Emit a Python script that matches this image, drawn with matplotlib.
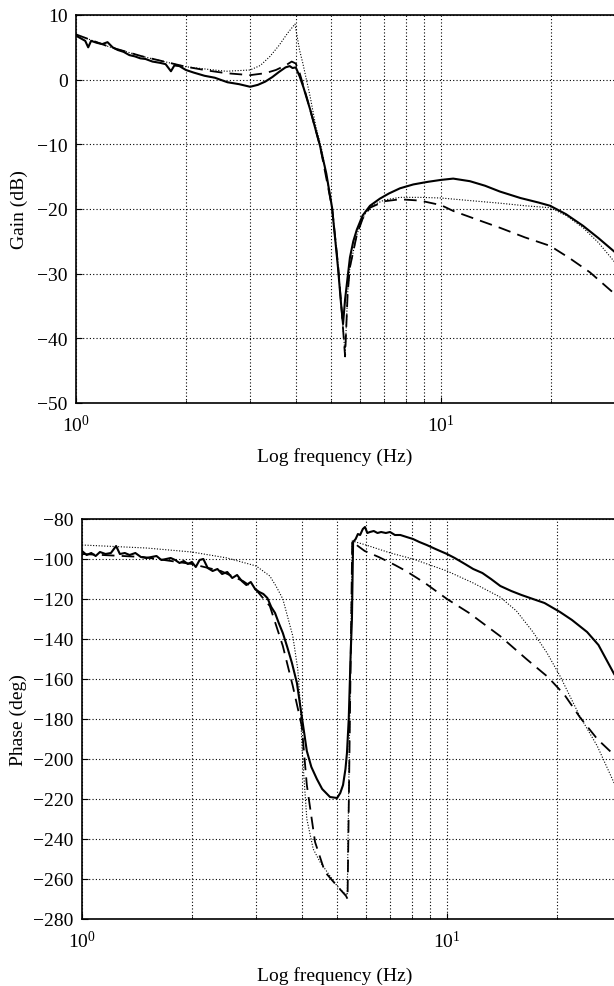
import numpy as np
import matplotlib.pyplot as plt
from matplotlib.ticker import LogLocator, NullFormatter, LogFormatterMathtext

plt.rcParams['font.family'] = ['Liberation Serif', 'DejaVu Serif']
plt.rcParams['mathtext.fontset'] = 'custom'
plt.rcParams['mathtext.rm'] = 'Liberation Serif'
plt.rcParams['mathtext.it'] = 'Liberation Serif:italic'

# gain, measured (solid)
f_gain_meas = [1.00, 1.03, 1.06, 1.08, 1.10, 1.14, 1.18, 1.22, 1.26, 1.30, 1.35, 1.40, 1.45, 1.50,
               1.55, 1.62, 1.70, 1.76, 1.82, 1.86, 1.92, 2.00, 2.10, 2.25, 2.40, 2.60, 2.80, 3.00,
               3.15, 3.30, 3.45, 3.60, 3.75, 3.85, 3.92, 4.00, 4.10, 4.20, 4.38, 4.66, 4.85, 5.03,
               5.22, 5.32, 5.39, 5.46, 5.55, 5.63, 5.75, 5.88, 6.10, 6.39, 6.80, 7.20, 7.72, 8.40,
               9.20, 10.0, 10.8, 12.0, 13.2, 14.5, 16.5, 18.5, 19.9, 22.0, 24.5, 27.0, 30.0]
gain_meas = [6.8, 6.4, 6.0, 5.0, 6.0, 5.7, 5.5, 5.8, 5.0, 4.6, 4.3, 3.8, 3.6, 3.3,
             3.2, 2.8, 2.6, 2.4, 1.3, 2.2, 2.1, 1.5, 1.1, 0.6, 0.3, -0.4, -0.7, -1.1,
             -0.8, -0.3, 0.4, 1.2, 1.9, 2.1, 1.8, 1.9, 0.5, -1.2, -4.6, -10.2, -14.5, -19.8,
             -29.0, -34.5, -37.8, -34.0, -30.5, -27.5, -25.0, -23.2, -21.0, -19.5, -18.4, -17.6, -16.8, -16.2,
             -15.8, -15.5, -15.3, -15.7, -16.4, -17.3, -18.3, -19.0, -19.5, -20.8, -22.6, -24.5, -26.7]

# gain, model 1 (dashed)
f_gain_m1 = [1.00, 1.23, 1.52, 2.00, 2.30, 2.58, 3.00, 3.30, 3.53, 3.75, 3.90, 4.00, 4.10, 4.20,
             4.38, 4.66, 5.03, 5.22, 5.35, 5.46, 5.55, 5.63, 5.88, 6.10, 6.39, 7.00, 7.72, 8.76,
             10.0, 10.8, 12.5, 14.5, 17.0, 19.9, 22.5, 25.6, 30.0]
gain_m1 = [7.0, 5.1, 3.6, 2.0, 1.4, 1.0, 0.7, 1.0, 1.5, 2.2, 2.8, 2.5, 1.0, -1.0,
           -4.6, -10.2, -19.8, -28.5, -36.0, -42.8, -33.0, -29.0, -24.0, -21.5, -19.8, -18.8, -18.5, -18.7,
           -19.4, -20.3, -21.6, -22.9, -24.4, -25.7, -27.6, -29.8, -33.2]

# gain, model 2 (dotted)
f_gain_m2 = [1.00, 1.23, 1.52, 2.00, 2.30, 2.58, 3.00, 3.20, 3.40, 3.60, 3.80, 3.98, 4.10, 4.18,
             4.38, 4.55, 4.70, 5.03, 5.22, 5.35, 5.46, 5.55, 5.63, 5.88, 6.10, 6.39, 7.00, 7.72,
             8.76, 10.0, 12.0, 14.5, 17.0, 19.9, 22.0, 24.5, 27.0, 30.0]
gain_m2 = [7.0, 5.1, 3.6, 2.0, 1.6, 1.3, 1.5, 2.2, 3.6, 5.3, 7.2, 8.6, 4.5, 2.6,
           -2.6, -7.5, -10.5, -19.8, -28.5, -36.0, -42.5, -33.0, -29.0, -24.0, -21.4, -19.6, -18.6, -18.2,
           -18.2, -18.3, -18.7, -19.1, -19.5, -19.8, -21.0, -22.9, -25.2, -28.3]

# phase, measured (solid)
f_ph_meas = [1.00, 1.03, 1.06, 1.09, 1.12, 1.16, 1.20, 1.24, 1.27, 1.31, 1.35, 1.40, 1.45, 1.50,
             1.55, 1.60, 1.65, 1.70, 1.75, 1.80, 1.85, 1.90, 1.95, 2.00, 2.05, 2.10, 2.15, 2.21,
             2.28, 2.35, 2.42, 2.50, 2.58, 2.66, 2.74, 2.82, 2.90, 2.98, 3.06, 3.14, 3.22, 3.30,
             3.38, 3.46, 3.55, 3.65, 3.76, 3.88, 4.01, 4.13, 4.25, 4.40, 4.55, 4.78, 5.00, 5.10,
             5.19, 5.27, 5.32, 5.38, 5.44, 5.49, 5.53, 5.62, 5.70, 5.78, 5.88, 5.96, 6.05, 6.15,
             6.30, 6.45, 6.60, 6.80, 6.98, 7.20, 7.45, 7.75, 8.07, 8.40, 8.80, 9.30, 10.0, 10.5,
             11.2, 11.8, 12.5, 13.2, 14.0, 15.0, 16.0, 17.2, 18.5, 20.4, 22.0, 24.2, 26.0, 28.7]
ph_meas = [-96.0, -98.0, -97.0, -98.5, -96.5, -97.5, -97.0, -93.5, -97.5, -97.0, -98.0, -97.0, -99.0, -99.5,
           -99.0, -98.5, -100.5, -100.0, -99.5, -100.5, -102.0, -101.0, -102.5, -101.5, -104.0, -100.5, -100.0, -104.5,
           -106.0, -105.0, -107.5, -106.5, -109.5, -108.0, -111.0, -113.0, -111.5, -115.0, -116.5, -117.5, -119.5, -124.0,
           -127.0, -132.0, -137.0, -144.0, -152.0, -162.0, -180.0, -196.0, -204.0, -210.0, -215.0, -219.0, -219.5, -217.0,
           -213.0, -205.0, -197.0, -180.0, -150.0, -130.0, -91.5, -90.0, -87.5, -88.0, -85.0, -84.0, -87.0, -86.5,
           -86.0, -87.0, -86.5, -87.0, -86.5, -88.0, -88.0, -89.0, -90.0, -91.5, -93.0, -95.0, -97.5, -99.5,
           -102.5, -105.0, -107.0, -110.0, -113.5, -116.0, -118.0, -120.0, -122.0, -126.5, -130.5, -136.5, -143.0, -157.5]

# phase, model 1 (dashed)
f_ph_m1 = [1.00, 1.47, 2.00, 2.40, 2.76, 3.00, 3.27, 3.55, 3.78, 4.00, 4.13, 4.35, 4.63, 5.00,
           5.29, 5.34, 5.50, 5.70, 5.95, 6.50, 7.20, 7.72, 8.70, 10.0, 11.5, 13.97, 16.5, 18.9,
           21.0, 23.1, 25.8, 28.7]
ph_m1 = [-97.5, -99.0, -102.5, -106.0, -111.0, -115.5, -123.5, -143.5, -163.5, -183.5, -213.0, -241.5, -256.5, -263.5,
         -268.5, -270.0, -91.0, -93.5, -96.0, -99.0, -103.0, -106.0, -112.0, -120.0, -127.0, -138.5, -150.0, -159.0,
         -168.0, -179.0, -190.0, -198.0]

# phase, model 2 (dotted)
f_ph_m2 = [1.00, 1.50, 2.00, 2.50, 3.00, 3.27, 3.40, 3.55, 3.78, 3.90, 3.96, 4.01, 4.13, 4.30,
           4.49, 5.00, 5.19, 5.33, 5.50, 6.00, 7.00, 8.07, 10.0, 11.8, 13.97, 15.5, 17.2, 18.8,
           20.4, 23.1, 25.8, 28.7]
ph_m2 = [-93.0, -94.5, -96.5, -99.5, -103.5, -108.5, -113.5, -120.0, -138.5, -155.0, -171.5, -196.0, -230.0, -245.0,
         -251.5, -263.5, -266.5, -268.0, -91.0, -93.0, -97.0, -100.0, -106.0, -112.0, -119.0, -126.0, -136.5, -147.0,
         -158.5, -178.5, -193.5, -212.0]

gain_ticks = [10, 0, -10, -20, -30, -40, -50]
phase_ticks = [-80, -100, -120, -140, -160, -180, -200, -220, -240, -260, -280]


def style_axes(ax, xmax, yticks):
    ax.set_xscale('log')
    ax.set_xlim(1, xmax)
    ax.set_ylim(yticks[-1], yticks[0])
    ax.set_yticks(yticks)
    ax.xaxis.set_major_locator(LogLocator(base=10))
    ax.xaxis.set_minor_locator(LogLocator(base=10, subs=np.arange(2, 10)))
    ax.xaxis.set_major_formatter(LogFormatterMathtext())
    ax.xaxis.set_minor_formatter(NullFormatter())
    ax.grid(True, which='major', color='k', linestyle=(0, (1, 2)), linewidth=0.8)
    ax.grid(True, which='minor', axis='x', color='k', linestyle=(0, (1, 2)), linewidth=0.8)
    ax.spines['right'].set_visible(False)
    for s in ['left', 'top', 'bottom']:
        ax.spines[s].set_linewidth(1.2)
    ax.tick_params(which='both', direction='in', labelsize=14, pad=6)
    ax.tick_params(which='major', length=4)
    ax.tick_params(which='minor', length=2)
    ax.tick_params(axis='x', pad=8)


fig = plt.figure(figsize=(6.14, 9.87), dpi=100)

ax1 = fig.add_axes([76 / 614, 583 / 987, 538 / 614, 388 / 987])
ax1.plot(f_gain_meas, gain_meas, 'k-', linewidth=1.5)
ax1.plot(f_gain_m1, gain_m1, 'k-', linestyle=(0, (7, 4)), linewidth=1.3)
ax1.plot(f_gain_m2, gain_m2, 'k', linestyle=(0, (1, 1.5)), linewidth=0.8)
style_axes(ax1, 10 ** (538 / 365), gain_ticks)
ax1.set_ylabel('Gain (dB)', fontsize=14)
ax1.set_xlabel('Log frequency (Hz)', fontsize=14)
ax1.yaxis.set_label_coords(-0.09, 0.5)
ax1.xaxis.set_label_coords(0.48, -0.114)

ax2 = fig.add_axes([82 / 614, 67 / 987, 532 / 614, 400 / 987])
ax2.plot(f_ph_meas, ph_meas, 'k-', linewidth=1.5)
ax2.plot(f_ph_m1, ph_m1, 'k-', linestyle=(0, (7, 4)), linewidth=1.3)
ax2.plot(f_ph_m2, ph_m2, 'k', linestyle=(0, (1, 1.5)), linewidth=0.8)
style_axes(ax2, 10 ** (532 / 365), phase_ticks)
ax2.set_ylabel('Phase (deg)', fontsize=14)
ax2.set_xlabel('Log frequency (Hz)', fontsize=14)
ax2.yaxis.set_label_coords(-0.103, 0.5)
ax2.xaxis.set_label_coords(0.475, -0.117)

plt.savefig('out.png', dpi=100)
